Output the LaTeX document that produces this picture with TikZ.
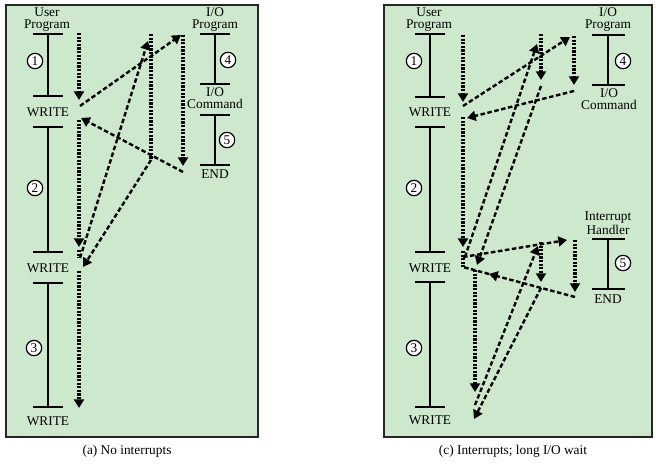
\documentclass[tikz,border=0pt]{standalone}
\usepackage{fontspec}
\setmainfont{Liberation Serif}
\usetikzlibrary{arrows.meta}
\definecolor{panelgreen}{RGB}{205,232,205}
\begin{document}
\begin{tikzpicture}[x=0.75pt,y=-0.75pt,
  panel/.style={draw=black!85, line width=1.5pt, fill=panelgreen},
  lbl/.style={font=\fontsize{10}{8.6}\selectfont, align=center, inner sep=0pt},
  tick/.style={line width=1pt},
  num/.style={circle, draw, line width=0.9pt, fill=white, minimum size=11.5pt, inner sep=0pt, font=\fontsize{10}{10}\selectfont},
  flowdot/.style={line width=2.3pt, dash pattern=on 1.7pt off 1.0pt},
  flowdash/.style={line width=1.8pt, dash pattern=on 3.4pt off 1.9pt},
  arr/.style={-{Triangle[length=6.5pt,width=7.5pt]}},
]
\useasboundingbox (0,0) rectangle (656,467);

% ===================== panel (a) =====================
\draw[panel] (6,5) rectangle (258,437);
\node[lbl] (aUP) at (47,19.5) {User\\Program};
\node[lbl] (aW1) at (48,112) {WRITE};
\node[lbl] (aW2) at (48,268) {WRITE};
\node[lbl] (aW3) at (48,421) {WRITE};
\node[lbl] (aIOP) at (215,19.5) {I/O\\Program};
\node[lbl] (aIOC) at (215,98) {I/O\\Command};
\node[lbl] (aEND) at (215,174) {END};
\node[lbl] (aCap) at (127,451) {(a) No interrupts};

\foreach \y in {34,96,127,252,283,407} \draw[tick] (33,\y) -- (63,\y);
\draw[tick] (48,34) -- (48,96);
\draw[tick] (48,127) -- (48,252);
\draw[tick] (48,283) -- (48,407);
\foreach \y in {34,84,115,165} \draw[tick] (200,\y) -- (230,\y);
\draw[tick] (215,34) -- (215,84);
\draw[tick] (215,115) -- (215,165);

\node[num] (aN1) at (35,61) {1};
\node[num] (aN2) at (35,188) {2};
\node[num] (aN3) at (34,348) {3};
\node[num] (aN4) at (228,60) {4};
\node[num] (aN5) at (227,140) {5};

% flow points (a)
\coordinate (a1s) at (79,33);   \coordinate (a1e) at (79,100);
\coordinate (a2s) at (80,106);  \coordinate (a2e) at (181,35);
\coordinate (a3s) at (183,35);  \coordinate (a3e) at (183,166);
\coordinate (a4s) at (183,172); \coordinate (a4e) at (81,118);
\coordinate (a5s) at (79,120);  \coordinate (a5e) at (79,247);
\coordinate (a5b) at (79,250);  \coordinate (a5c) at (79,258);
\coordinate (a6s) at (80,258);  \coordinate (a6e) at (148,41);
\coordinate (a7s) at (151,34);  \coordinate (a7e) at (151,160);
\coordinate (a8e) at (83,267);
\coordinate (a9s) at (79,271);  \coordinate (a9e) at (79,408);

\draw[flowdot,arr] (a1s) -- (a1e);
\draw[flowdash,arr] (a2s) -- (a2e);
\draw[flowdot,arr] (a3s) -- (a3e);
\draw[flowdash,arr] (a4s) -- (a4e);
\draw[flowdot,arr] (a5s) -- (a5e);
\draw[flowdot] (a5b) -- (a5c);
\draw[flowdash,arr] (a6s) -- (a6e);
\draw[flowdot] (a7s) -- (a7e);
\draw[flowdash,arr] (a7e) -- (a8e);
\draw[flowdot,arr] (a9s) -- (a9e);

% ===================== panel (c) =====================
\draw[panel] (384,5) rectangle (652,437);
\node[lbl] (cUP) at (429,19.5) {User\\Program};
\node[lbl] (cW1) at (430,112) {WRITE};
\node[lbl] (cW2) at (430,268) {WRITE};
\node[lbl] (cW3) at (430,420) {WRITE};
\node[lbl] (cIOP) at (608,19.5) {I/O\\Program};
\node[lbl] (cIOC) at (609,99) {I/O\\Command};
\node[lbl] (cIH) at (608,223) {Interrupt\\Handler};
\node[lbl] (cEND) at (608,299) {END};
\node[lbl] (cCap) at (513,451) {(c) Interrupts; long I/O wait};

\foreach \y in {34,97,127,252,282,407} \draw[tick] (415,\y) -- (445,\y);
\draw[tick] (430,34) -- (430,97);
\draw[tick] (430,127) -- (430,252);
\draw[tick] (430,282) -- (430,407);
\foreach \y in {35,85,239,289} \draw[tick] (592,\y) -- (625,\y);
\draw[tick] (608,35) -- (608,85);
\draw[tick] (608,239) -- (608,289);

\node[num] (cN1) at (414,61) {1};
\node[num] (cN2) at (414,188) {2};
\node[num] (cN3) at (414,348) {3};
\node[num] (cN4) at (623,61) {4};
\node[num] (cN5) at (623,263) {5};

% flow points (c)
\coordinate (c1s) at (463,35);  \coordinate (c1e) at (463,102);
\coordinate (c2s) at (463,106); \coordinate (c2e) at (570,37);
\coordinate (c3s) at (574,36);  \coordinate (c3e) at (574,85);
\coordinate (c4s) at (574,91);  \coordinate (c4e) at (467,118);
\coordinate (c5s) at (463,117); \coordinate (c5e) at (463,247);
\coordinate (c6s) at (463,251); \coordinate (c6e) at (463,267);
\coordinate (c7s) at (463,257); \coordinate (c7e) at (567,240);
\coordinate (c8s) at (575,240); \coordinate (c8e) at (575,292);
\coordinate (c9s) at (575,297); \coordinate (c9m) at (489,274);
\coordinate (c10s) at (465,257); \coordinate (c10e) at (537,44);
\coordinate (c11s) at (541,34); \coordinate (c11e) at (541,80);
\coordinate (c12s) at (541,86); \coordinate (c12e) at (477,265);
\coordinate (c13s) at (475,270); \coordinate (c13e) at (475,392);
\coordinate (c14s) at (475,405); \coordinate (c14e) at (538,246);
\coordinate (c15s) at (541,242); \coordinate (c15e) at (541,282);
\coordinate (c16s) at (541,288); \coordinate (c16e) at (474,419);

\draw[flowdot,arr] (c1s) -- (c1e);
\draw[flowdash,arr] (c2s) -- (c2e);
\draw[flowdot,arr] (c3s) -- (c3e);
\draw[flowdash,arr] (c4s) -- (c4e);
\draw[flowdot,arr] (c5s) -- (c5e);
\draw[flowdot] (c6s) -- (c6e);
\draw[flowdash,arr] (c7s) -- (c7e);
\draw[flowdot,arr] (c8s) -- (c8e);
\draw[flowdash,arr] (c9s) -- (c9m);
\draw[flowdash] (c9m) -- (c6e);
\draw[flowdash,arr] (c10s) -- (c10e);
\draw[flowdot,arr] (c11s) -- (c11e);
\draw[flowdash,arr] (c12s) -- (c12e);
\draw[flowdot,arr] (c13s) -- (c13e);
\draw[flowdash,arr] (c14s) -- (c14e);
\draw[flowdot,arr] (c15s) -- (c15e);
\draw[flowdash,arr] (c16s) -- (c16e);
\end{tikzpicture}
\end{document}
